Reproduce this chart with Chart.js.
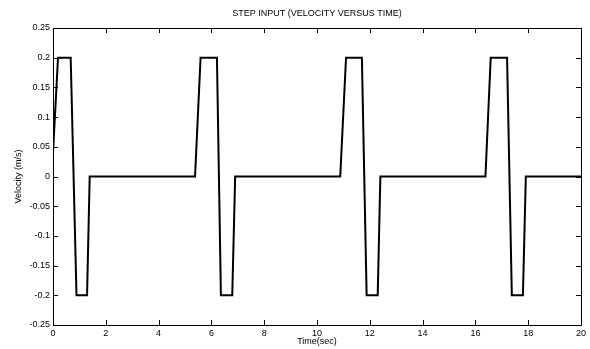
<!DOCTYPE html>
<html>
<head>
<meta charset="utf-8">
<script src="https://cdn.jsdelivr.net/npm/chart.js@4"></script>
<style>
  html, body { margin: 0; padding: 0; background: #fff; }
  #wrap { width: 590px; height: 349px; }
</style>
</head>
<body>
<div id="wrap"><canvas id="chart"></canvas></div>
<script>
// Data
const timeSec  = [0, 0.19, 0.67, 0.89, 1.29, 1.39, 5.38, 5.59, 6.21, 6.36, 6.79, 6.9,
                  10.88, 11.1, 11.7, 11.88, 12.3, 12.4, 16.38, 16.58, 17.2, 17.38, 17.8, 17.91, 20];
const velocity = [0.04, 0.2, 0.2, -0.2, -0.2, 0, 0, 0.2, 0.2, -0.2, -0.2, 0,
                  0, 0.2, 0.2, -0.2, -0.2, 0, 0, 0.2, 0.2, -0.2, -0.2, 0, 0];
const titleText = "STEP INPUT (VELOCITY VERSUS TIME)";
const xLabel = "Time(sec)";
const yLabel = "Velocity (m/s)";

const fontFamily = "'Liberation Sans', Arial, sans-serif";
const tickLen = 5;

// Matlab style box, inward ticks on all sides, title over the plot area
const matlabBox = {
   id: "matlabBox",
   afterDraw(chart) {
      const { ctx, chartArea: a, scales } = chart;
      ctx.save();
      ctx.strokeStyle = "#000";
      ctx.lineWidth = 1;
      ctx.beginPath();
      ctx.rect(Math.round(a.left) + 0.5, Math.round(a.top) + 0.5,
               Math.round(a.right - a.left), Math.round(a.bottom - a.top));
      scales.x.ticks.forEach(t => {
         const px = Math.round(scales.x.getPixelForValue(t.value)) + 0.5;
         ctx.moveTo(px, a.bottom); ctx.lineTo(px, a.bottom - tickLen);
         ctx.moveTo(px, a.top);    ctx.lineTo(px, a.top + tickLen);
      });
      scales.y.ticks.forEach(t => {
         const py = Math.round(scales.y.getPixelForValue(t.value)) + 0.5;
         ctx.moveTo(a.left, py);  ctx.lineTo(a.left + tickLen, py);
         ctx.moveTo(a.right, py); ctx.lineTo(a.right - tickLen, py);
      });
      ctx.stroke();

      ctx.fillStyle = "#000";
      ctx.font = "9px " + fontFamily;
      ctx.textAlign = "center";
      ctx.textBaseline = "middle";
      ctx.fillText(titleText, (a.left + a.right) / 2, 14);
      ctx.restore();
   }
};

new Chart(document.getElementById("chart"), {
   type: "scatter",
   data: {
      datasets: [{
         data: timeSec.map((t, i) => ({ x: t, y: velocity[i] })),
         showLine: true,
         borderColor: "#000",
         borderWidth: 2,
         pointRadius: 0,
         tension: 0
      }]
   },
   options: {
      responsive: true,
      maintainAspectRatio: false,
      animation: false,
      layout: { padding: { top: 28, right: 9, left: 13, bottom: 0 } },
      plugins: {
         legend: { display: false },
         tooltip: { enabled: false }
      },
      scales: {
         x: {
            type: "linear",
            min: 0,
            max: 20,
            grid: { display: false, drawTicks: false, tickLength: 0 },
            border: { display: false },
            ticks: {
               stepSize: 2,
               padding: 3,
               color: "#000",
               font: { size: 9, family: fontFamily },
               maxRotation: 0
            },
            title: {
               display: true,
               text: xLabel,
               color: "#000",
               font: { size: 9, family: fontFamily },
               padding: { top: 0, bottom: 2 }
            },
            afterFit: s => { s.height = 24; }
         },
         y: {
            min: -0.25,
            max: 0.25,
            grid: { display: false, drawTicks: false, tickLength: 0 },
            border: { display: false },
            ticks: {
               stepSize: 0.05,
               padding: 3,
               color: "#000",
               font: { size: 9, family: fontFamily },
               callback: v => String(parseFloat(v.toFixed(2)))
            },
            title: {
               display: true,
               text: yLabel,
               color: "#000",
               font: { size: 9, family: fontFamily },
               padding: { top: 0, bottom: 0 }
            },
            afterFit: s => { s.width = 40; }
         }
      }
   },
   plugins: [matlabBox]
});
</script>
</body>
</html>
